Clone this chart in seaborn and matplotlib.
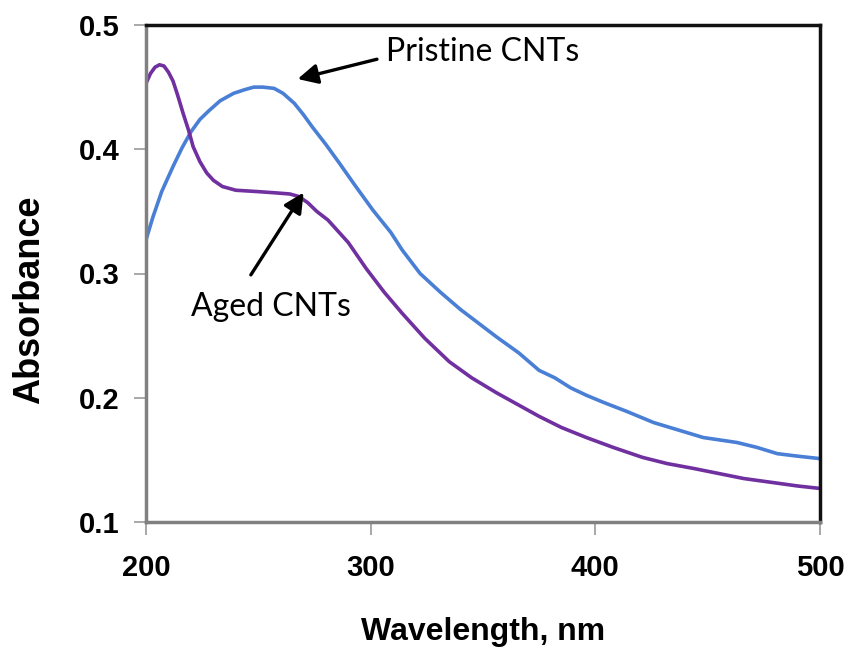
import matplotlib
matplotlib.use("Agg")
import matplotlib.pyplot as plt
import seaborn as sns
import pandas as pd

sns.set_theme(style="white")
plt.rcParams['font.family'] = ['Liberation Sans', 'DejaVu Sans']

# Pristine CNTs (blue)
pristine_nm = [200, 203, 207, 212, 216, 220, 224, 228, 233, 239, 244, 248, 252, 257, 261, 266, 270, 274, 280, 286, 293, 301, 309, 314, 322, 331, 340, 348, 356, 366, 375, 382, 389, 396, 404, 414, 426, 437, 448, 463, 472, 481, 490, 500]
pristine_abs = [0.327, 0.345, 0.366, 0.386, 0.401, 0.414, 0.424, 0.431, 0.439, 0.445, 0.448, 0.450, 0.450, 0.449, 0.445, 0.437, 0.428, 0.418, 0.404, 0.389, 0.371, 0.351, 0.333, 0.319, 0.300, 0.285, 0.271, 0.260, 0.249, 0.236, 0.222, 0.216, 0.208, 0.202, 0.196, 0.189, 0.180, 0.174, 0.168, 0.164, 0.160, 0.155, 0.153, 0.151]

# Aged CNTs (purple)
aged_nm = [200, 202, 204, 206, 208, 210, 212, 214, 216.5, 219, 221, 224, 227, 230, 234, 240, 249, 257, 264, 268, 272, 276, 281, 285, 290, 298, 306, 314, 324, 335, 345, 356, 366, 375, 385, 396, 408, 421, 432, 444, 455, 466, 478, 490, 500]
aged_abs = [0.453, 0.461, 0.466, 0.468, 0.467, 0.462, 0.455, 0.444, 0.429, 0.415, 0.402, 0.390, 0.381, 0.375, 0.370, 0.367, 0.366, 0.365, 0.364, 0.362, 0.357, 0.350, 0.343, 0.335, 0.325, 0.304, 0.285, 0.268, 0.248, 0.229, 0.216, 0.204, 0.194, 0.185, 0.176, 0.168, 0.160, 0.152, 0.147, 0.143, 0.139, 0.135, 0.132, 0.129, 0.127]

x_ticks = [200, 300, 400, 500]
y_ticks = [0.1, 0.2, 0.3, 0.4, 0.5]
y_tick_labels = ["0.1", "0.2", "0.3", "0.4", "0.5"]

df_p = pd.DataFrame({"Wavelength": pristine_nm, "Absorbance": pristine_abs})
df_a = pd.DataFrame({"Wavelength": aged_nm, "Absorbance": aged_abs})

fig = plt.figure(figsize=(8.47, 6.51), dpi=100)
ax = fig.add_axes([146/847, 1 - 522/651, (820-146)/847, (522-25)/651])

sns.lineplot(data=df_p, x="Wavelength", y="Absorbance", ax=ax, color="#4a7fd6", linewidth=2.6)
sns.lineplot(data=df_a, x="Wavelength", y="Absorbance", ax=ax, color="#7030a0", linewidth=2.6)

ax.set_xlim(200, 500)
ax.set_ylim(0.1, 0.5)
ax.set_xticks(x_ticks)
ax.set_yticks(y_ticks)
ax.set_yticklabels(y_tick_labels)
ax.tick_params(axis='both', which='both', direction='out', length=9, width=1.2, color="#999999",
               labelsize=21, labelcolor="black", bottom=True, left=True)
ax.tick_params(axis='x', pad=14)
ax.tick_params(axis='y', pad=10)
for lab in ax.get_xticklabels() + ax.get_yticklabels():
    lab.set_fontweight('bold')

for side in ["left", "bottom"]:
    ax.spines[side].set_color("#808080")
    ax.spines[side].set_linewidth(2.5)
for side in ["top", "right"]:
    ax.spines[side].set_color("#111111")
    ax.spines[side].set_linewidth(2.5)

ax.set_xlabel("Wavelength, nm", fontsize=23, fontweight='bold', color="black", va='center')
ax.xaxis.set_label_coords(0.5, (522 - 632) / 497)
ax.set_ylabel("Absorbance", fontsize=26, fontweight='bold', color="black", va='center')
ax.yaxis.set_label_coords((30 - 146) / 674, (522 - 300) / 497)

ax.annotate("", xy=(266.3, 0.456), xytext=(304, 0.473),
            arrowprops=dict(arrowstyle="-|>,head_length=1.0,head_width=0.5", color="black", lw=2.4))
ax.text(307, 0.478, "Pristine CNTs", fontsize=23, family=['Lato', 'DejaVu Sans'], ha='left', va='center', color="black")
ax.annotate("", xy=(270.8, 0.367), xytext=(246, 0.297),
            arrowprops=dict(arrowstyle="-|>,head_length=1.0,head_width=0.5", color="black", lw=2.4))
ax.text(255.6, 0.273, "Aged CNTs", fontsize=23, family=['Lato', 'DejaVu Sans'], ha='center', va='center', color="black")

fig.savefig("out.png", dpi=100)
